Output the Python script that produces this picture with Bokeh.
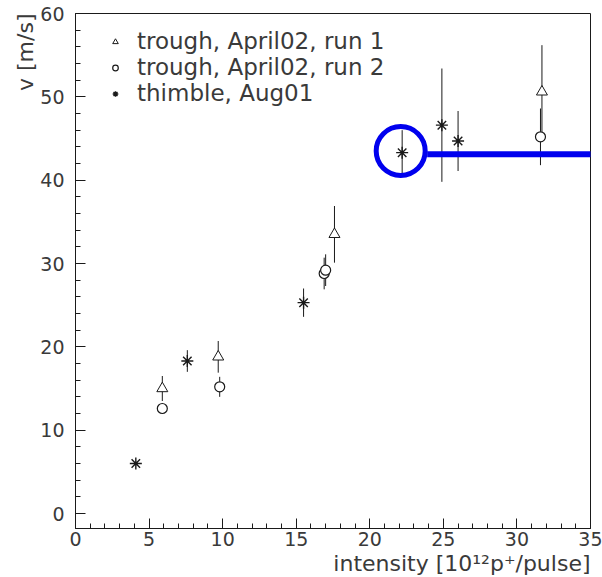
import numpy as np
from bokeh.plotting import figure
from bokeh.models import (FixedTicker, Legend, LegendItem, Arrow, Range1d, Title)
from bokeh.embed import file_html
from bokeh.resources import INLINE

# ---- data ----
# trough, April02, run 1 (open triangles)
run1_x = [5.9, 9.7, 17.6, 31.7]
run1_y = [15.0, 18.8, 33.5, 50.6]
run1_err = [1.5, 1.9, 3.4, 5.6]

# trough, April02, run 2 (open circles)
run2_x = [5.9, 9.8, 16.9, 17.0, 31.6]
run2_y = [12.6, 15.2, 28.8, 29.2, 45.2]
run2_err = [0.0, 1.2, 1.9, 1.9, 3.4]

# thimble, Aug01 (asterisks)
thimble_x = [4.1, 7.6, 15.5, 22.2, 24.9, 26.0]
thimble_y = [6.0, 18.3, 25.3, 43.3, 46.6, 44.7]
thimble_err = [0.0, 1.3, 1.7, 2.7, 6.8, 3.6]

series_labels = ["trough, April02, run 1", "trough, April02, run 2", "thimble, Aug01"]

# blue highlight (circle around one point + horizontal line)
highlight_x = [22.1]
highlight_y = [43.5]
highlight_line_x = [23.9, 36.5]
highlight_line_y = 43.1

x_ticks = [0, 5, 10, 15, 20, 25, 30, 35]
y_ticks = [0, 10, 20, 30, 40, 50, 60]
x_minor = list(range(0, 36))
y_minor = list(range(-2, 61, 2))

x_title = "intensity [10\u00b9\u00b2p\u207a/pulse]"
y_title = "v [m/s]"

FONT = "DejaVu Sans"
TXT = "#3a3a3a"
INK = "#1a1a1a"

p = figure(width=602, height=577, output_backend="svg", toolbar_location=None,
           x_range=Range1d(0, 35), y_range=Range1d(-1.8, 60),
           min_border_left=75, min_border_right=12, min_border_top=13,
           min_border_bottom=49)
p.xgrid.visible = False
p.ygrid.visible = False
p.outline_line_color = INK
p.outline_line_width = 1
p.background_fill_color = "white"
p.border_fill_color = "white"

for ax, ticks, minor in ((p.xaxis[0], x_ticks, x_minor), (p.yaxis[0], y_ticks, y_minor)):
    ax.ticker = FixedTicker(ticks=ticks, minor_ticks=minor)
    ax.major_tick_in = 10
    ax.major_tick_out = 0
    ax.minor_tick_in = 5
    ax.minor_tick_out = 0
    ax.axis_line_color = INK
    ax.major_tick_line_color = INK
    ax.minor_tick_line_color = INK
    ax.major_label_text_font = FONT
    ax.major_label_text_font_size = "19px"
    ax.major_label_text_color = TXT

p.xaxis[0].major_label_standoff = 3
p.yaxis[0].major_label_standoff = 11

# axis titles as right-/top-aligned titles beside the axes
p.add_layout(Title(text=x_title, align="right", standoff=0, text_font=FONT,
                   text_font_size="22px", text_font_style="normal",
                   text_color=TXT), "below")
p.add_layout(Title(text=y_title, align="right", standoff=0, text_font=FONT,
                   text_font_size="22px", text_font_style="normal",
                   text_color=TXT), "left")


def errbars(xs, ys, errs):
    xs = np.asarray(xs, float)
    ys = np.asarray(ys, float)
    es = np.asarray(errs, float)
    m = es > 0
    p.segment(x0=xs[m], y0=ys[m] - es[m], x1=xs[m], y1=ys[m] + es[m],
              line_color=INK, line_width=1)


errbars(run1_x, run1_y, run1_err)
errbars(run2_x, run2_y, run2_err)
errbars(thimble_x, thimble_y, thimble_err)

r1 = p.scatter(x=run1_x, y=run1_y, marker="triangle", size=11,
               fill_color="white", line_color=INK, line_width=1)
r2 = p.scatter(x=run2_x, y=run2_y, marker="circle", size=10,
               fill_color="white", line_color=INK, line_width=1.2)
r3 = p.scatter(x=thimble_x, y=thimble_y, marker="asterisk", size=12,
               line_color=INK, line_width=1.4)

# blue highlight
p.scatter(x=highlight_x, y=highlight_y, marker="circle", size=49,
          fill_alpha=0, line_color="#0000ee", line_width=5)
p.add_layout(Arrow(end=None, x_start=highlight_line_x[0], y_start=highlight_line_y,
                   x_end=highlight_line_x[1], y_end=highlight_line_y,
                   line_color="#0000ee", line_width=6))

legend = Legend(items=[LegendItem(label=series_labels[0], renderers=[r1]),
                       LegendItem(label=series_labels[1], renderers=[r2]),
                       LegendItem(label=series_labels[2], renderers=[r3])],
                location=(33, 422))
legend.margin = 0
legend.padding = 0
legend.spacing = 0
legend.glyph_width = 14
legend.glyph_height = 23
legend.label_height = 23
legend.label_standoff = 15
legend.label_text_font = FONT
legend.label_text_font_size = "23px"
legend.label_text_color = TXT
legend.background_fill_alpha = 0
legend.border_line_alpha = 0
p.add_layout(legend, "center")

open("out.html", "w").write(file_html(p, INLINE))
